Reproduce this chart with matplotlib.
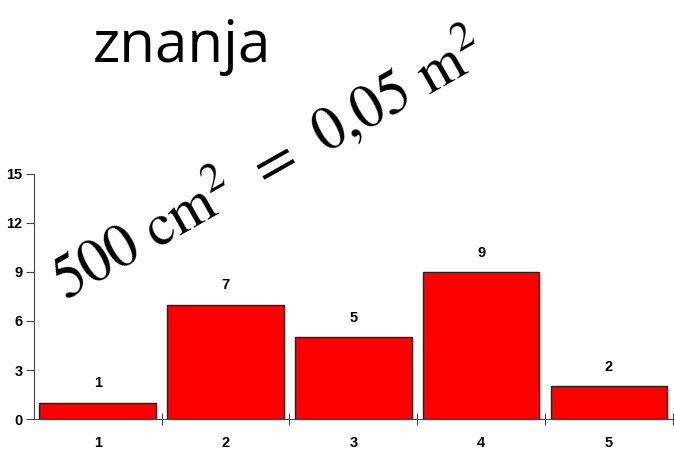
import matplotlib.pyplot as plt
from matplotlib.ticker import FixedLocator

categories = [1, 2, 3, 4, 5]
counts = [1, 7, 5, 9, 2]
y_ticks = [0, 3, 6, 9, 12, 15]

plt.rcParams['mathtext.fontset'] = 'stix'
narrow = ['Liberation Sans Narrow', 'Liberation Sans', 'DejaVu Sans']

fig = plt.figure(figsize=(6.74, 4.53), dpi=100)
ax = fig.add_axes([0.050, 0.075, 0.9485, 0.541])

bars = ax.bar(categories, counts, width=0.91, color='#ff0000',
              edgecolor='#222222', linewidth=1.0)
for x, v in zip(categories, counts):
    ax.text(x, v + 0.75, str(v), ha='center', va='bottom',
            fontsize=10.5, fontweight='bold', family=narrow)

ax.set_xlim(0.5, 5.5)
ax.set_ylim(0, 15)
ax.set_yticks(y_ticks)
ax.set_yticklabels([str(t) for t in y_ticks], fontsize=10.5,
                   fontweight='bold', family=narrow)

# category boundaries get the tick marks, centres get the labels
ax.xaxis.set_major_locator(FixedLocator([c + 0.5 for c in categories]))
ax.xaxis.set_minor_locator(FixedLocator(categories))
ax.set_xticklabels([])
ax.set_xticklabels([str(c) for c in categories], minor=True, fontsize=10.5,
                   fontweight='bold', family=narrow)
ax.tick_params(axis='x', which='major', direction='inout', length=9,
               color='#444444')
ax.tick_params(axis='x', which='minor', length=0, pad=12)
ax.tick_params(axis='y', direction='out', length=6, color='#444444', pad=2)

for s in ['top', 'right']:
    ax.spines[s].set_visible(False)
for s in ['left', 'bottom']:
    ax.spines[s].set_color('#444444')

fig.text(0.137, 0.863, 'znanja', fontsize=42, family='Open Sans',
         ha='left', va='baseline')
fig.text(0.398, 0.637,
         r'$500\ \mathrm{cm}^2\;\,=\;\,0{,}05\ \mathrm{m}^2$',
         fontsize=43, rotation=29.5, rotation_mode='anchor',
         ha='center', va='center')

fig.savefig('out.png', dpi=100)
